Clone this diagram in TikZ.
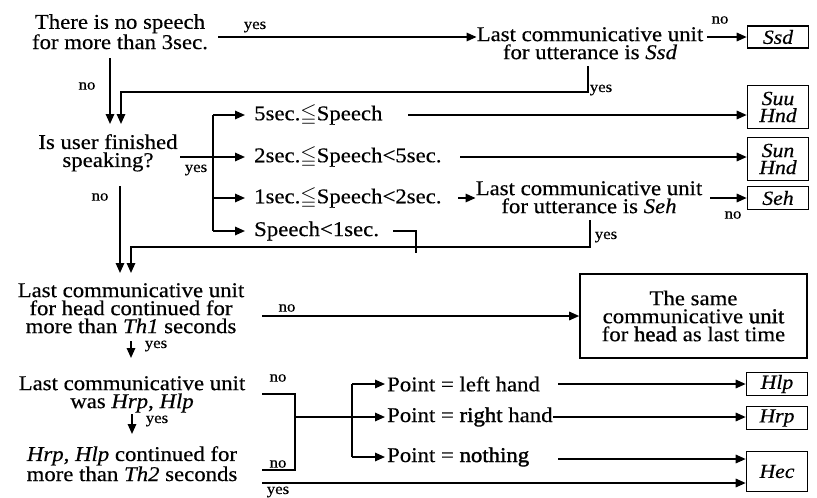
\documentclass[tikz,border=0pt]{standalone}
\usepackage{fontspec}
\usepackage{amssymb}
\setmainfont[FakeStretch=1.085,FakeBold=0.4]{Liberation Serif}
\newfontfamily\semib[FakeStretch=1.085,FakeBold=1.6]{Liberation Serif}
\usetikzlibrary{arrows.meta}
\begin{document}
\begin{tikzpicture}[x=1pt,y=-1pt,
  every node/.style={inner sep=0pt,font=\fontsize{21}{18}\selectfont},
  arr/.style={line width=1.6pt,-{Triangle[length=10pt,width=8.5pt]}},
  ln/.style={line width=1.6pt},
  txt/.style={align=center,anchor=north},
  opt/.style={anchor=west},
  lab/.style={font=\fontsize{15.5}{15}\selectfont},
  res/.style={draw,line width=1.6pt,minimum width=61pt,align=center,font=\fontsize{20}{17}\selectfont\itshape},
  big/.style={draw,line width=1.6pt,minimum width=227pt,minimum height=84pt,align=center}
]
\useasboundingbox (0,0) rectangle (817,498);

% ---- nodes ----
\node[txt] (A) at (120,14) {There is no speech\\for more than 3sec.};
\node[txt] (B) at (590,27) {Last communicative unit\\for utterance is \textit{Ssd}};
\node[res,minimum height=22pt] (Ssd) at (778,37) {Ssd};
\node[txt] (C) at (108,134) {Is user finished\\speaking?};
\node[opt] (T5) at (254,115) {5sec.\(\leqq\)Speech};
\node[opt] (T2) at (254,157) {2sec.\(\leqq\)Speech<5sec.};
\node[opt] (T1) at (254,198) {1sec.\(\leqq\)Speech<2sec.};
\node[opt] (T0) at (254,231) {Speech<1sec.};
\node[txt] (D) at (589,181) {Last communicative unit\\for utterance is \textit{Seh}};
\node[res,minimum height=43pt] (Suu) at (778,107) {Suu\\Hnd};
\node[res,minimum height=43pt] (Sun) at (778,159) {Sun\\Hnd};
\node[res,minimum height=23pt] (Seh) at (778,198) {Seh};
\node[txt] (E) at (131,283) {Last communicative unit\\for head continued for\\more than \textit{Th1} seconds};
\node[big] (F) at (693.5,316) {The same\\communicative {\semib unit}\\for {\semib head} as last time};
\node[txt] (G) at (132,376) {Last communicative unit\\was \textit{Hrp}, \textit{Hlp}};
\node[txt] (H) at (132,446) {\textit{Hrp}, \textit{Hlp} continued for\\more than \textit{Th2} seconds};
\node[opt] (PL) at (387,384) {Point = left hand};
\node[opt] (PR) at (387,417) {Point = {\semib right} hand};
\node[opt] (PN) at (387,457) {Point = {\semib nothing}};
\node[res,minimum height=23pt] (Hlp) at (777,384) {Hlp};
\node[res,minimum height=23pt] (Hrp) at (777,418) {Hrp};
\node[res,minimum height=40pt] (Hec) at (777,471.5) {Hec};

% ---- labels ----
\node[lab] (l1) at (255,27) {yes};
\node[lab] (l2) at (720,20) {no};
\node[lab] (l3) at (87,86) {no};
\node[lab] (l4) at (601,90) {yes};
\node[lab] (l5) at (196,170) {yes};
\node[lab] (l6) at (100,197) {no};
\node[lab] (l7) at (733,215) {no};
\node[lab] (l8) at (606,237) {yes};
\node[lab] (l9) at (287,308) {no};
\node[lab] (l10) at (156,346) {yes};
\node[lab] (l11) at (278,378) {no};
\node[lab] (l12) at (157,421) {yes};
\node[lab] (l13) at (278,464) {no};
\node[lab] (l14) at (278,492) {yes};

% ---- junction coordinates ----
\coordinate (a1) at (218,37);
\coordinate (b1) at (707,37);
\coordinate (c1) at (110,58);
\coordinate (c2) at (110,124);
\coordinate (d1) at (588,66);
\coordinate (d2) at (588,92);
\coordinate (d3) at (121,92);
\coordinate (d4) at (121,124);
\coordinate (e1) at (180,157);
\coordinate (f1) at (213,115);
\coordinate (f2) at (213,231);
\coordinate (f3) at (213,198);
\coordinate (g1) at (408,115);
\coordinate (g2) at (460,157);
\coordinate (g3) at (458,198);
\coordinate (g4) at (710,198);
\coordinate (h1) at (590,220);
\coordinate (h2) at (590,247);
\coordinate (h3) at (131,247);
\coordinate (h4) at (131,273);
\coordinate (i1) at (393,231);
\coordinate (i2) at (416,231);
\coordinate (i3) at (416,253);
\coordinate (j1) at (120,186);
\coordinate (j2) at (120,273);
\coordinate (k1) at (262,316);
\coordinate (m1) at (131,341);
\coordinate (m2) at (131,358);
\coordinate (n1) at (262,394);
\coordinate (n2) at (295,394);
\coordinate (n3) at (295,470);
\coordinate (n4) at (262,470);
\coordinate (n5) at (295,417);
\coordinate (p1) at (352,384);
\coordinate (p2) at (352,457);
\coordinate (q1) at (132,414);
\coordinate (q2) at (132,434);
\coordinate (r1) at (558,384);
\coordinate (r2) at (558,459);
\coordinate (s1) at (262,483);

% ---- connectors ----
\draw[arr] (a1) -- (a1 -| B.west);
\draw[arr] (b1) -- (b1 -| Ssd.west);
\draw[arr] (c1) -- (c2);
\draw[arr] (d1) -- (d2) -- (d3) -- (d4);
\draw[arr] (e1) -- ([xshift=-9pt]T2.west);
\draw[ln] (f1) -- (f2);
\draw[arr] (f1) -- ([xshift=-9pt]T5.west);
\draw[arr] (f3) -- ([xshift=-9pt]T1.west);
\draw[arr] (f2) -- ([xshift=-9pt]T0.west);
\draw[arr] (g1) -- (g1 -| Suu.west);
\draw[arr] (g2) -- (g2 -| Sun.west);
\draw[arr] (g3) -- (g3 -| D.west);
\draw[arr] (g4) -- (g4 -| Seh.west);
\draw[arr] (h1) -- (h2) -- (h3) -- (h4);
\draw[ln] (i1) -- (i2) -- (i3);
\draw[arr] (j1) -- (j2);
\draw[arr] (k1) -- (k1 -| F.west);
\draw[arr] (m1) -- (m2);
\draw[ln] (n1) -- (n2) -- (n3) -- (n4);
\draw[arr] (n5) -- ([xshift=-2pt]PR.west);
\draw[ln] (p1) -- (p2);
\draw[arr] (p1) -- ([xshift=-2pt]PL.west);
\draw[arr] (p2) -- ([xshift=-2pt]PN.west);
\draw[arr] (q1) -- (q2);
\draw[arr] (r1) -- (r1 -| Hlp.west);
\draw[arr] (PR.east) -- (PR.east -| Hrp.west);
\draw[arr] (r2) -- (r2 -| Hec.west);
\draw[arr] (s1) -- (s1 -| Hec.west);
\end{tikzpicture}
\end{document}
